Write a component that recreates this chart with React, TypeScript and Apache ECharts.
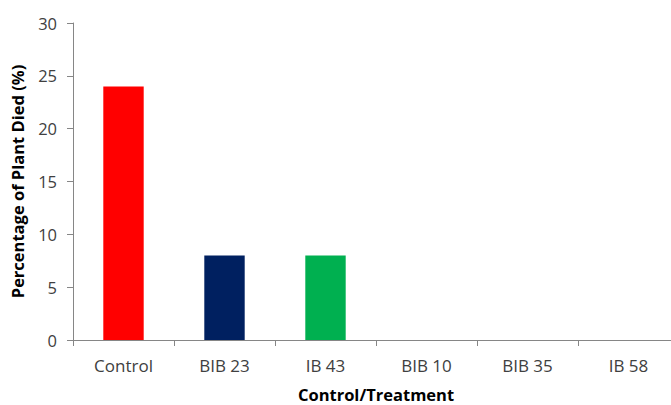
import React, { useEffect, useRef } from "react";
import * as echarts from "echarts";

const categories = ["Control", "BIB 23", "IB 43", "BIB 10", "BIB 35", "IB 58"];
const values = [24, 8, 8, 0, 0, 0];
const barColors = ["#FF0000", "#002060", "#00B050", "#4472C4", "#4472C4", "#4472C4"];

export default function App() {
  const ref = useRef<HTMLDivElement>(null);
  useEffect(() => {
    if (!ref.current) return;
    const chart = echarts.init(ref.current, undefined, { renderer: "svg" });
    const font = "'Open Sans', 'Noto Sans', sans-serif";
    chart.setOption({
      animation: false,
      grid: { left: 73, top: 23, width: 606, height: 317, containLabel: false, outerBoundsMode: "none" },
      xAxis: {
        type: "category",
        data: categories,
        name: "Control/Treatment",
        nameLocation: "middle",
        nameGap: 46,
        nameTextStyle: { fontFamily: font, fontSize: 16.5, lineHeight: 17, fontWeight: "bold", color: "#000" },
        axisLine: { lineStyle: { color: "#868686", width: 1 } },
        axisTick: { show: true, alignWithLabel: false, length: 6, lineStyle: { color: "#868686" } },
        axisLabel: { fontFamily: font, fontSize: 17, color: "#404040", margin: 17 },
      },
      yAxis: {
        type: "value",
        min: 0,
        max: 30,
        interval: 5,
        name: "Percentage of Plant Died (%)",
        nameLocation: "middle",
        nameGap: 47,
        nameTextStyle: { fontFamily: font, fontSize: 16.5, fontWeight: "bold", color: "#000" },
        axisLine: { show: true, lineStyle: { color: "#868686", width: 1 } },
        axisTick: { show: true, length: 6, lineStyle: { color: "#868686" } },
        splitLine: { show: false },
        axisLabel: { fontFamily: font, fontSize: 16.5, color: "#404040", margin: 16 },
      },
      series: [
        {
          type: "bar",
          data: values.map((v, i) => ({ value: v, itemStyle: { color: barColors[i] } })),
          barWidth: "40%",
        },
      ],
    });
    return () => chart.dispose();
  }, []);
  return <div ref={ref} style={{ width: 671, height: 405, position: "absolute", left: 0, top: 0 }} />;
}
